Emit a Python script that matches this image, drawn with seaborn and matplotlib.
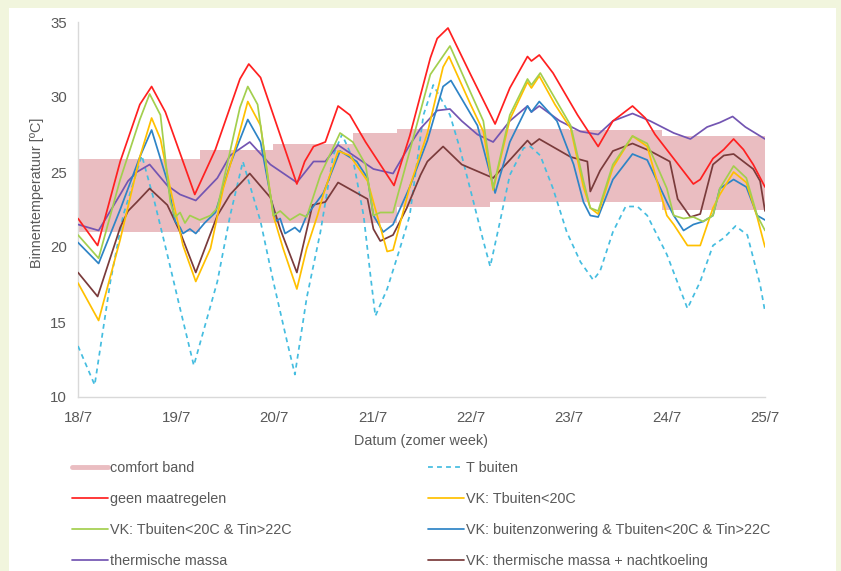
import matplotlib
matplotlib.use("Agg")
import matplotlib.pyplot as plt
import pandas as pd
import seaborn as sns
from matplotlib.lines import Line2D
from matplotlib.patches import Rectangle

# ---------------- data (x in days after 18/7, y in degC) ----------------
dag_labels = ["18/7", "19/7", "20/7", "21/7", "22/7", "23/7", "24/7", "25/7"]
y_ticks = [10, 15, 20, 25, 30, 35]

band_dag = [0.00, 1.24, 1.99, 2.80, 3.25, 4.20, 5.00, 5.95, 7.00]
band_boven = [25.9, 26.5, 26.9, 27.6, 27.9, 27.9, 27.8, 27.4, 27.4]
band_onder = [21.0, 21.6, 21.6, 21.6, 22.7, 23.0, 23.0, 22.5, 22.5]

geen_dag = [0.00, 0.20, 0.43, 0.63, 0.75, 0.89, 1.19, 1.40, 1.65, 1.74, 1.86, 2.23, 2.31, 2.40,
            2.52, 2.65, 2.77, 2.93, 3.22, 3.38, 3.59, 3.66, 3.77, 4.00, 4.25, 4.40, 4.58, 4.62,
            4.70, 4.84, 5.09, 5.30, 5.45, 5.65, 5.78, 5.88, 6.27, 6.34, 6.47, 6.58, 6.68, 6.78,
            6.88, 7.00]
geen_temp = [21.9, 20.1, 25.7, 29.5, 30.7, 29.0, 23.5, 26.5, 31.2, 32.2, 31.3, 24.2, 25.7, 26.7,
             27.0, 29.4, 28.8, 27.0, 24.1, 27.4, 32.6, 33.9, 34.6, 31.5, 28.2, 30.6, 32.7, 32.4,
             32.8, 31.6, 28.8, 26.7, 28.4, 29.4, 28.6, 27.5, 24.2, 24.5, 25.9, 26.5, 27.2, 26.5,
             25.5, 24.0]

vk20_dag = [0.00, 0.21, 0.43, 0.63, 0.75, 0.84, 0.94, 1.07, 1.20, 1.35, 1.48, 1.62, 1.73, 1.86,
            1.99, 2.09, 2.23, 2.33, 2.44, 2.50, 2.65, 2.77, 2.95, 3.15, 3.21, 3.38, 3.56, 3.72,
            3.78, 4.00, 4.13, 4.23, 4.40, 4.58, 4.62, 4.70, 4.86, 5.02, 5.15, 5.22, 5.30, 5.45,
            5.65, 5.80, 6.00, 6.07, 6.21, 6.34, 6.47, 6.54, 6.68, 6.81, 6.92, 7.00]
vk20_temp = [17.6, 15.1, 20.5, 26.0, 28.6, 27.2, 23.9, 20.1, 17.7, 19.9, 23.9, 27.0, 29.7, 28.1,
             22.1, 19.9, 17.2, 19.9, 22.1, 23.5, 26.4, 26.1, 24.4, 19.7, 19.8, 24.0, 27.6, 32.0,
             32.7, 29.5, 27.7, 23.8, 28.5, 31.0, 30.6, 31.4, 29.5, 27.9, 24.0, 22.6, 22.2, 25.3,
             27.4, 26.7, 22.1, 21.5, 20.1, 20.1, 22.6, 23.5, 25.0, 24.3, 22.0, 20.0]

vk22_dag = [0.00, 0.21, 0.43, 0.63, 0.73, 0.84, 0.94, 0.99, 1.04, 1.09, 1.14, 1.24, 1.35, 1.42,
            1.65, 1.73, 1.83, 1.99, 2.06, 2.16, 2.26, 2.33, 2.47, 2.67, 2.80, 2.93, 3.01, 3.08,
            3.21, 3.38, 3.59, 3.79, 4.00, 4.13, 4.23, 4.40, 4.58, 4.62, 4.71, 5.02, 5.15, 5.22,
            5.30, 5.45, 5.65, 5.80, 6.00, 6.07, 6.17, 6.27, 6.37, 6.47, 6.54, 6.68, 6.81, 6.92,
            7.00]
vk22_temp = [20.8, 19.25, 24.5, 28.5, 30.2, 28.8, 23.0, 22.0, 22.3, 21.6, 22.1, 21.8, 22.1, 22.6,
             29.3, 30.7, 29.5, 22.1, 22.4, 21.8, 22.2, 22.0, 24.8, 27.6, 27.0, 25.5, 22.1, 22.3,
             22.3, 26.4, 31.5, 33.4, 30.3, 28.4, 23.9, 28.8, 31.2, 30.8, 31.6, 28.1, 24.4, 22.6,
             22.4, 25.5, 27.4, 26.9, 23.9, 22.1, 21.9, 22.0, 21.7, 22.1, 23.9, 25.4, 24.6, 22.1,
             21.1]

zon_dag = [0.00, 0.21, 0.43, 0.63, 0.75, 0.91, 0.99, 1.04, 1.07, 1.14, 1.20, 1.29, 1.40, 1.55,
           1.73, 1.86, 2.01, 2.06, 2.11, 2.21, 2.26, 2.33, 2.50, 2.67, 2.84, 2.95, 3.01, 3.11,
           3.21, 3.38, 3.56, 3.72, 3.80, 4.07, 4.25, 4.40, 4.58, 4.62, 4.70, 4.88, 5.05, 5.15,
           5.22, 5.30, 5.45, 5.65, 5.80, 6.00, 6.07, 6.17, 6.27, 6.37, 6.47, 6.54, 6.68, 6.81,
           6.92, 7.00]
zon_temp = [20.3, 18.9, 22.5, 26.0, 27.8, 24.4, 21.7, 21.3, 20.9, 21.2, 20.9, 21.6, 22.3, 25.5,
            28.5, 27.0, 21.7, 21.9, 20.9, 21.3, 21.0, 22.1, 23.6, 26.4, 25.7, 24.6, 22.1, 21.0,
            21.5, 24.0, 27.1, 30.7, 31.1, 28.1, 23.6, 27.0, 29.4, 29.0, 29.7, 28.4, 25.5, 23.0,
            22.1, 22.0, 24.5, 26.2, 25.8, 23.0, 22.1, 21.1, 21.5, 21.7, 22.1, 23.9, 24.5, 24.0,
            22.1, 21.8]

massa_dag = [0.00, 0.21, 0.43, 0.51, 0.60, 0.73, 0.91, 1.04, 1.20, 1.42, 1.55, 1.75, 1.96, 2.23,
             2.40, 2.52, 2.65, 3.01, 3.21, 3.38, 3.49, 3.66, 3.79, 3.91, 4.07, 4.23, 4.40, 4.58,
             4.62, 4.70, 4.91, 5.12, 5.30, 5.45, 5.65, 5.83, 6.07, 6.24, 6.41, 6.54, 6.67, 6.80,
             7.00]
massa_temp = [21.5, 21.1, 23.5, 24.4, 25.0, 25.5, 24.1, 23.5, 23.1, 24.6, 26.1, 27.0, 25.5, 24.3,
              25.7, 25.7, 26.8, 25.2, 24.9, 26.8, 27.9, 29.1, 29.2, 28.4, 27.5, 27.0, 28.4, 29.4,
              29.0, 29.4, 28.4, 27.7, 27.5, 28.4, 28.9, 28.4, 27.6, 27.2, 28.0, 28.3, 28.7, 28.0,
              27.2]

nacht_dag = [0.00, 0.20, 0.43, 0.51, 0.60, 0.73, 0.91, 1.04, 1.20, 1.42, 1.55, 1.75, 1.96, 2.06,
             2.23, 2.39, 2.52, 2.65, 2.95, 3.01, 3.08, 3.21, 3.35, 3.49, 3.56, 3.72, 3.91, 4.23,
             4.40, 4.58, 4.62, 4.70, 5.02, 5.19, 5.22, 5.32, 5.45, 5.65, 5.83, 6.03, 6.11, 6.24,
             6.34, 6.47, 6.58, 6.68, 6.88, 6.95, 7.00]
nacht_temp = [18.3, 16.7, 21.3, 22.4, 23.0, 23.9, 22.8, 21.0, 18.3, 22.1, 23.5, 24.9, 23.3, 21.2,
              18.3, 22.8, 23.0, 24.3, 23.2, 21.2, 20.4, 20.8, 22.6, 24.8, 25.7, 26.7, 25.5, 24.6,
              25.8, 27.1, 26.8, 27.2, 26.0, 25.7, 23.7, 25.1, 26.4, 26.9, 26.4, 25.7, 23.2, 22.0,
              22.2, 25.5, 26.1, 26.2, 25.2, 24.4, 22.4]

buiten_dag = [0.00, 0.17, 0.33, 0.46, 0.65, 0.78, 0.91, 1.04, 1.18, 1.42, 1.55, 1.68, 1.86, 1.99,
              2.13, 2.21, 2.33, 2.47, 2.60, 2.69, 2.80, 2.91, 2.98, 3.03, 3.15, 3.28, 3.38, 3.52,
              3.62, 3.79, 3.89, 4.03, 4.13, 4.20, 4.30, 4.40, 4.54, 4.61, 4.71, 4.84, 4.98, 5.12,
              5.25, 5.32, 5.45, 5.58, 5.70, 5.80, 6.00, 6.21, 6.34, 6.47, 6.58, 6.70, 6.82, 6.95,
              7.00]
buiten_temp = [13.4, 10.8, 17.7, 22.1, 26.1, 23.0, 19.5, 15.9, 12.1, 17.7, 22.1, 25.7, 21.7, 17.7,
               13.7, 11.5, 16.6, 21.0, 26.1, 27.5, 25.9, 22.1, 18.1, 15.4, 17.2, 19.9, 22.1, 28.8,
               30.8, 28.8, 26.6, 23.0, 20.4, 18.7, 21.7, 24.8, 26.6, 26.7, 26.1, 23.9, 21.0, 19.0,
               17.8, 18.4, 21.0, 22.7, 22.7, 22.1, 19.5, 15.9, 17.7, 20.1, 20.6, 21.4, 20.8, 17.5,
               15.7]

S_BUITEN = "T buiten"
S_GEEN = "geen maatregelen"
S_VK20 = "VK: Tbuiten<20C"
S_VK22 = "VK: Tbuiten<20C & Tin>22C"
S_ZON = "VK: buitenzonwering & Tbuiten<20C & Tin>22C"
S_MASSA = "thermische massa"
S_NACHT = "VK: thermische massa + nachtkoeling"
S_BAND = "comfort band"

series = {
    S_BUITEN: (buiten_dag, buiten_temp),
    S_MASSA: (massa_dag, massa_temp),
    S_NACHT: (nacht_dag, nacht_temp),
    S_ZON: (zon_dag, zon_temp),
    S_VK20: (vk20_dag, vk20_temp),
    S_VK22: (vk22_dag, vk22_temp),
    S_GEEN: (geen_dag, geen_temp),
}

colors = {
    S_BUITEN: "#45bde0",
    S_GEEN: "#ff2020",
    S_VK20: "#ffc000",
    S_VK22: "#a3cf4e",
    S_ZON: "#2e84c6",
    S_MASSA: "#7355b2",
    S_NACHT: "#7a3b3b",
}
band_color = "#eabdc1"
text_color = "#595959"

frames = [pd.DataFrame({"dag": d, "temp": t, "serie": name}) for name, (d, t) in series.items()]
df = pd.concat(frames, ignore_index=True)

# ---------------- figure ----------------
sns.set_theme(style="white")
plt.rcParams["font.family"] = ["Liberation Sans", "DejaVu Sans"]

FS = 10.4
fig = plt.figure(figsize=(8.41, 5.71), dpi=100)
fig.patch.set_facecolor("#f1f5dd")
fig.add_artist(Rectangle((9 / 841, 0), (836 - 9) / 841, (571 - 8) / 571,
                         transform=fig.transFigure, facecolor="white", edgecolor="none", zorder=0))

ax = fig.add_axes([78 / 841, 1 - 397 / 571, 687 / 841, 375 / 571])
ax.set_facecolor("white")

ax.fill_between(band_dag, band_onder, band_boven, step="post", color=band_color, lw=0, zorder=1)

dash_map = {name: "" for name in series}
dash_map[S_BUITEN] = (2.8, 2.4)
sns.lineplot(data=df, x="dag", y="temp", hue="serie", style="serie",
             hue_order=list(series), style_order=list(series),
             palette=colors, dashes=dash_map, estimator=None, sort=False,
             legend=False, lw=1.25, ax=ax, zorder=3)

ax.set_xlim(0, 7)
ax.set_ylim(10, 35)
ax.set_xticks(range(len(dag_labels)))
ax.set_xticklabels(dag_labels)
ax.set_yticks(y_ticks)
sns.despine(ax=ax)
for s in ("left", "bottom"):
    ax.spines[s].set_color("#d9d9d9")
    ax.spines[s].set_linewidth(1.0)
ax.tick_params(axis="both", length=0, labelsize=FS + 0.4, labelcolor=text_color)
ax.tick_params(axis="y", pad=8)
ax.tick_params(axis="x", pad=10)

ax.set_xlabel("Datum (zomer week)", fontsize=FS, color=text_color)
ax.xaxis.set_label_coords(0.499, -0.100)
ax.set_ylabel("Binnentemperatuur [ºC]", fontsize=FS, color=text_color)
ax.yaxis.set_label_coords(-0.050, 0.545)

def handle(name):
    if name == S_BAND:
        return Line2D([], [], color=band_color, lw=3.5)
    if name == S_BUITEN:
        return Line2D([], [], color=colors[name], lw=1.25, ls=(0, (2.8, 2.4)))
    return Line2D([], [], color=colors[name], lw=1.25)

col1 = [S_BAND, S_GEEN, S_VK22, S_MASSA]
col2 = [S_BUITEN, S_VK20, S_ZON, S_NACHT]
for names, x0 in ((col1, 72 / 841), (col2, 428 / 841)):
    fig.legend([handle(n) for n in names], names, loc="upper left",
               bbox_to_anchor=(x0, 1 - 461 / 571), bbox_transform=fig.transFigure,
               frameon=False, borderpad=0, borderaxespad=0, fontsize=FS,
               handlelength=2.5, handletextpad=0.15, labelspacing=1.17,
               labelcolor=text_color)

fig.savefig("out.png", dpi=100, facecolor=fig.get_facecolor())
